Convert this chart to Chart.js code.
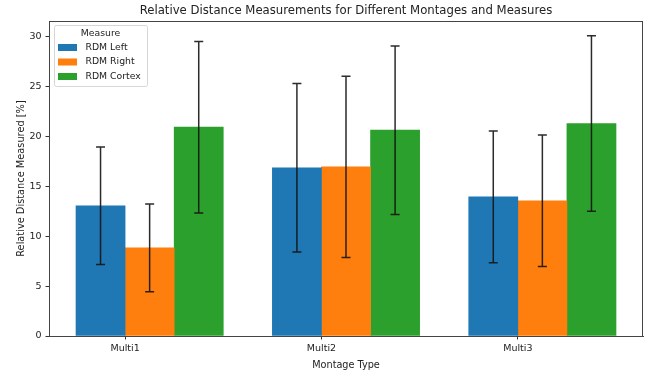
<!DOCTYPE html>
<html>
<head>
<meta charset="utf-8">
<script src="https://cdn.jsdelivr.net/npm/chart.js@4"></script>
<style>
  html, body { margin: 0; padding: 0; background: #fff; }
  #wrap { width: 659px; height: 371px; position: relative; }
</style>
</head>
<body>
<div id="wrap"><canvas id="c" width="659" height="371"></canvas></div>
<script>
// ---- data ----
const categories = ['Multi1', 'Multi2', 'Multi3'];
const seriesNames = ['RDM Left', 'RDM Right', 'RDM Cortex'];
const rdmLeft = [13.07, 16.87, 13.96];
const rdmLeftErr = [5.9, 8.45, 6.6];
const rdmRight = [8.85, 16.97, 13.56];
const rdmRightErr = [4.4, 9.1, 6.6];
const rdmCortex = [20.95, 20.65, 21.32];
const rdmCortexErr = [8.6, 8.45, 8.8];
const yTicks = [0, 5, 10, 15, 20, 25, 30];

const titleText = 'Relative Distance Measurements for Different Montages and Measures';
const xTitle = 'Montage Type';
const yTitle = 'Relative Distance Measured [%]';
const legendTitle = 'Measure';

const colors = ['#1f77b4', '#ff7f0e', '#2ca02c'];
const values = [rdmLeft, rdmRight, rdmCortex];
const errors = [rdmLeftErr, rdmRightErr, rdmCortexErr];
const barWidth = 0.25;
const FONT = "'DejaVu Sans', sans-serif";

const datasets = seriesNames.map((name, k) => ({
  label: name,
  data: categories.map((c, i) => ({ x: i + (k - 0.5) * barWidth, y: values[k][i] })),
  errors: errors[k],
  backgroundColor: colors[k],
  borderWidth: 0,
  grouped: false,
  barPercentage: 1,
  categoryPercentage: 1
}));

const errorBarPlugin = {
  id: 'errorBars',
  afterDatasetsDraw(chart) {
    const ctx = chart.ctx;
    const y = chart.scales.y;
    ctx.save();
    ctx.strokeStyle = 'rgba(20,20,20,0.9)';
    ctx.lineWidth = 1.5;
    chart.data.datasets.forEach((ds, k) => {
      const meta = chart.getDatasetMeta(k);
      meta.data.forEach((el, i) => {
        const v = ds.data[i].y, e = ds.errors[i];
        const yt = y.getPixelForValue(v + e);
        const yb = y.getPixelForValue(v - e);
        const x = el.x;
        ctx.beginPath();
        ctx.moveTo(x, yt); ctx.lineTo(x, yb);
        ctx.moveTo(x - 4.5, yt); ctx.lineTo(x + 4.5, yt);
        ctx.moveTo(x - 4.5, yb); ctx.lineTo(x + 4.5, yb);
        ctx.stroke();
      });
    });
    ctx.restore();
  }
};

const framePlugin = {
  id: 'frame',
  afterDraw(chart) {
    const ctx = chart.ctx;
    const a = chart.chartArea;
    ctx.save();
    // axes frame
    ctx.strokeStyle = '#444';
    ctx.lineWidth = 1;
    ctx.strokeRect(Math.round(a.left) + 0.5, Math.round(a.top) + 0.5,
                   Math.round(a.right - a.left) - 1, Math.round(a.bottom - a.top));
    // title
    ctx.fillStyle = '#222';
    ctx.font = "11.7px " + FONT;
    ctx.textAlign = 'center';
    ctx.textBaseline = 'middle';
    ctx.fillText(titleText, (a.left + a.right) / 2, 10.5);
    // legend
    const lx = a.left + 5, ly = a.top + 4, lw = 93, lh = 61;
    ctx.fillStyle = 'rgba(255,255,255,0.85)';
    ctx.strokeStyle = '#d6d6d6';
    ctx.beginPath();
    if (ctx.roundRect) ctx.roundRect(lx + 0.5, ly + 0.5, lw, lh, 2); else ctx.rect(lx + 0.5, ly + 0.5, lw, lh);
    ctx.fill();
    ctx.stroke();
    ctx.fillStyle = '#222';
    ctx.font = "9.3px " + FONT;
    ctx.textAlign = 'center';
    ctx.fillText(legendTitle, lx + lw / 2, ly + 8.5);
    chart.data.datasets.forEach((ds, k) => {
      const ry = ly + 22.5 + k * 14.5;
      ctx.fillStyle = ds.backgroundColor;
      ctx.fillRect(lx + 4, ry - 3.5, 19, 7);
      ctx.fillStyle = '#222';
      ctx.textAlign = 'left';
      ctx.fillText(ds.label, lx + 31.5, ry);
    });
    ctx.restore();
  }
};

new Chart(document.getElementById('c'), {
  type: 'bar',
  data: { datasets },
  options: {
    responsive: false,
    animation: false,
    devicePixelRatio: 1,
    layout: { padding: { top: 21, right: 16, left: 0, bottom: 0 } },
    plugins: { legend: { display: false }, title: { display: false }, tooltip: { enabled: false } },
    scales: {
      x: {
        type: 'linear',
        offset: false,
        min: -0.3875,
        max: 2.6375,
        afterBuildTicks(scale) { scale.ticks = categories.map((c, i) => ({ value: i })); },
        afterFit(scale) { scale.height = 35; },
        ticks: {
          callback: (v) => categories[v],
          color: '#222',
          font: { family: FONT, size: 9.5 },
          padding: 3,
          maxRotation: 0,
          autoSkip: false
        },
        grid: { display: true, offset: false, drawOnChartArea: false, tickLength: 3.5, color: '#333' },
        border: { display: true, color: '#444' },
        title: { display: true, text: xTitle, color: '#222', font: { family: FONT, size: 9.7 }, padding: { top: 14, bottom: 0 } }
      },
      y: {
        min: 0,
        max: 31.6,
        afterBuildTicks(scale) { scale.ticks = yTicks.map(v => ({ value: v })); },
        afterFit(scale) { scale.width = 49; },
        ticks: {
          color: '#222',
          font: { family: FONT, size: 9.5 },
          padding: 4
        },
        grid: { display: true, offset: false, drawOnChartArea: false, tickLength: 3.5, color: '#333' },
        border: { display: true, color: '#444' },
        title: { display: true, text: yTitle, color: '#222', font: { family: FONT, size: 9.8 }, padding: { top: 16, bottom: 0 } }
      }
    }
  },
  plugins: [errorBarPlugin, framePlugin]
});
</script>
</body>
</html>
